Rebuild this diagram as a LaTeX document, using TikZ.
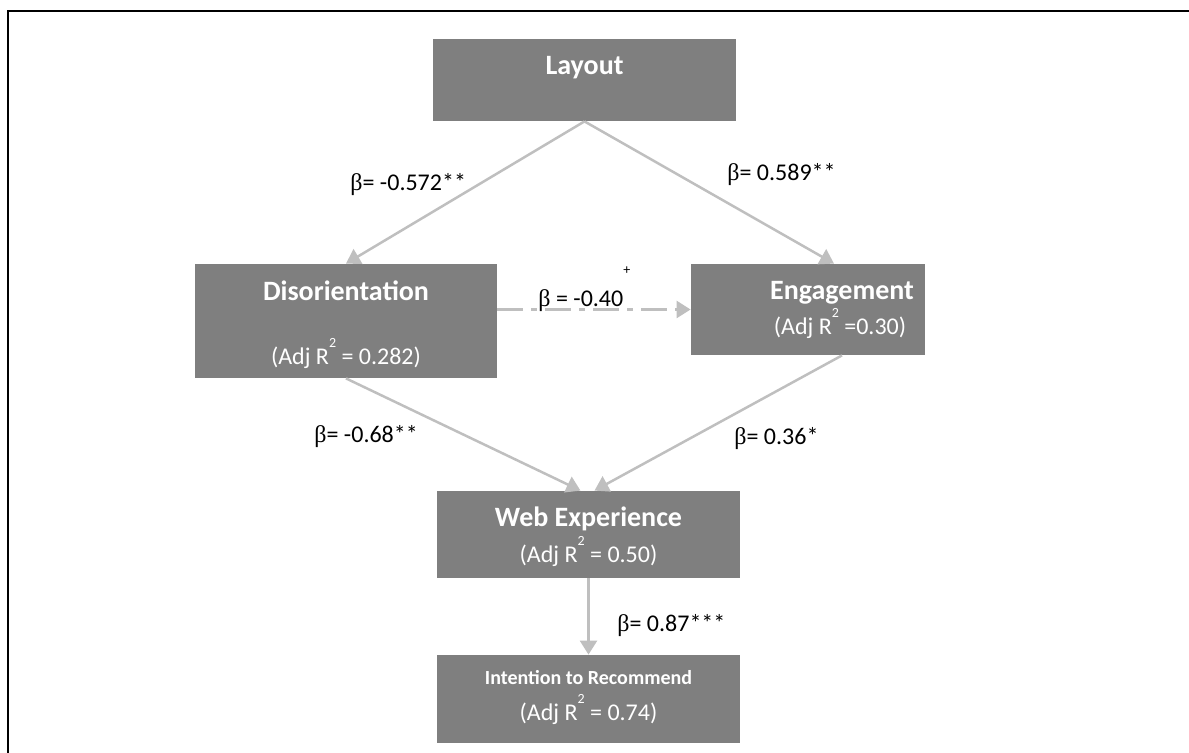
\documentclass[tikz,border=0pt]{standalone}
\usepackage{fontspec}
\setmainfont{Carlito}
\newfontfamily\betafont{Liberation Serif}
\definecolor{boxgray}{RGB}{127, 127, 127}
\definecolor{linkgray}{RGB}{191, 191, 191}
\usetikzlibrary{arrows.meta, calc}
\newcommand{\bt}{{\betafont β}}
\newcommand{\rtwo}{R\raisebox{8.5pt}{\fontsize{7}{7}\selectfont 2}}

\begin{document}
\begin{tikzpicture}[x=0.5pt, y=-0.5pt,
  box/.style={fill=boxgray, inner sep=0pt},
  title/.style={text=white, anchor=base, inner sep=0pt, font=\fontsize{14}{16}\selectfont\bfseries},
  sub/.style={text=white, anchor=base, inner sep=0pt, font=\fontsize{12}{14}\selectfont},
  coef/.style={anchor=base west, inner sep=0pt, font=\fontsize{12}{14}\selectfont},
  link/.style={draw=linkgray, line width=1.25pt, -{Triangle[width=8.5pt, length=7pt]}}]
  \useasboundingbox (0,0) rectangle (1189,753);

  % Frame
  \draw[line width=1pt] (8,753) -- (8,11) -- (1189,11);

  % Boxes
  \node[box, minimum width=151.5pt, minimum height=41pt] (layout) at (584.5,80) {};
  \node[title] (layoutT) at (584.5,75) {Layout};

  \node[box, minimum width=151pt, minimum height=57pt] (disor) at (346,321) {};
  \node[title] (disorT) at (346,301) {Disorientation};
  \node[sub] (disorS) at (346,365) {(Adj \rtwo{} = 0.282)};

  \node[box, minimum width=117pt, minimum height=45.5pt] (engage) at (808,309.5) {};
  \node[title] (engageT) at (842,300) {Engagement};
  \node[sub] (engageS) at (840,335) {(Adj \rtwo{} =0.30)};

  \node[box, minimum width=151.5pt, minimum height=43.5pt] (webexp) at (588.5,534.5) {};
  \node[title] (webexpT) at (588.5,526) {Web Experience};
  \node[sub] (webexpS) at (588.5,562) {(Adj \rtwo{} = 0.50)};

  \node[box, minimum width=151.5pt, minimum height=44pt] (intent) at (588.5,699) {};
  \node[title, font=\fontsize{10}{12}\selectfont\bfseries] (intentT) at (588.5,684) {Intention to Recommend};
  \node[sub] (intentS) at (588.5,720) {(Adj \rtwo{} = 0.74)};

  % Paths
  \draw[link] (layout.south) -- ([xshift=13pt]engage.north);
  \draw[link] (layout.south) -- (disor.north);
  \draw[link, dash pattern=on 13pt off 4pt on 3pt off 4pt] (disor.east |- engage.west) -- (engage.west);
  \draw[link] (disor.south) -- ([xshift=-4pt]webexp.north);
  \draw[link] (engage.south) ++(17pt,0) -- ([xshift=3pt]webexp.north);
  \draw[link] (webexp.south) -- (intent.north);

  % Coefficients
  \node[coef] (c1) at (350,191) {\bt= -0.572**};
  \node[coef] (c2) at (727,181) {\bt= 0.589**};
  \node[coef] (c3) at (538,307) {\bt{} = -0.40\raisebox{16pt}{\fontsize{7}{7}\selectfont +}};
  \node[coef] (c4) at (314,443) {\bt= -0.68**};
  \node[coef] (c5) at (734,445) {\bt= 0.36*};
  \node[coef] (c6) at (617,631) {\bt= 0.87***};
\end{tikzpicture}
\end{document}
